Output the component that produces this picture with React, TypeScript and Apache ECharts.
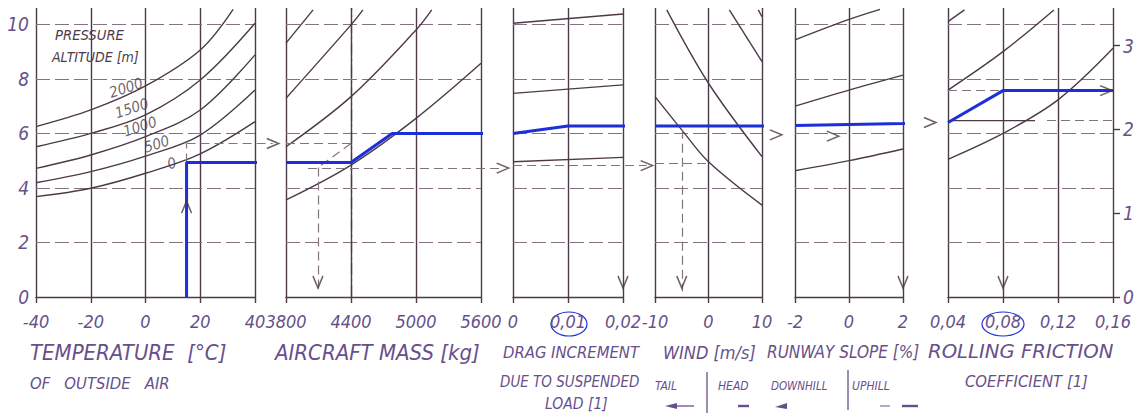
import React, { useEffect, useRef } from "react";
import * as echarts from "echarts";

// ---------------- data ----------------
const leftTicks = [0, 2, 4, 6, 8, 10];
const rightTicks = [0, 1, 2, 3];
const levelLines = [2, 4, 6, 8, 10];

const tempTicks = [-40, -20, 0, 20, 40];
const massTicks = [3800, 4400, 5000, 5600];
const dragTicks = [0, 0.01, 0.02];
const windTicks = [-10, 0, 10];
const slopeTicks = [-2, 0, 2];
const frictionTicks = [0.04, 0.08, 0.12, 0.16];

// pressure altitude curves (temperature panel)
const altitudeNames = ["0", "500", "1000", "1500", "2000"];
const alt0 = [[-40, 3.68], [-20, 3.99], [0, 4.54], [20, 5.25], [40, 6.43]];
const alt500 = [[-40, 4.19], [-20, 4.6], [0, 5.17], [20, 5.94], [40, 7.59]];
const alt1000 = [[-40, 4.72], [-20, 5.21], [0, 5.88], [20, 6.86], [40, 8.88]];
const alt1500 = [[-40, 5.51], [-20, 6.0], [0, 6.68], [20, 7.96], [40, 10.04]];
const alt2000 = [[-40, 6.25], [-20, 6.86], [0, 7.74], [20, 9.06], [32, 10.55]];
const altitudeLabelPos = [[9.6, 4.9], [4.1, 5.61], [-2.0, 6.25], [-5.0, 6.92], [-7.1, 7.67]];

// aircraft mass reference lines
const massA = [[3800, 3.56], [4400, 4.84], [5000, 6.55], [5600, 8.57]];
const massB = [[3800, 5.51], [4400, 7.35], [5000, 9.79], [5145, 10.53]];
const massC = [[3800, 7.29], [4400, 9.98], [4510, 10.53]];
const massD = [[3800, 9.31], [4050, 10.53]];

// drag increment reference lines
const dragA = [[0, 4.96], [0.02, 5.12]];
const dragB = [[0, 7.47], [0.02, 7.78]];
const dragC = [[0, 10.04], [0.02, 10.38]];

// wind reference lines
const windA = [[-10, 7.35], [-5, 6.13], [0, 4.96], [10, 3.37]];
const windB = [[-7.8, 10.53], [0, 7.84], [10, 5.15]];
const windC = [[3.9, 10.53], [10, 8.63]];
const windD = [[9.3, 10.53], [10, 10.28]];

// runway slope reference lines
const slopeA = [[-2, 9.43], [0, 10.18], [1.15, 10.55]];
const slopeB = [[-2, 7.0], [0, 7.59], [2, 8.14]];
const slopeC = [[-2, 4.63], [0, 5.0], [2, 5.43]];

// rolling friction reference lines
const fricA = [[0.04, 10.1], [0.052, 10.53]];
const fricB = [[0.04, 7.59], [0.08, 9.0], [0.117, 10.53]];
const fricC = [[0.04, 5.05], [0.08, 6.0], [0.12, 7.23], [0.16, 9.12]];
const fricRef = [[0.04, 6.47], [0.1033, 6.47]];

// worked example (blue path)
const blueTemp = [[15, 0], [15, 4.93], [40, 4.93]];
const blueMass = [[3800, 4.93], [4400, 4.93], [4780, 6.0], [5600, 6.0]];
const blueDrag = [[0, 6.0], [0.01, 6.27], [0.02, 6.27]];
const blueWind = [[-10, 6.27], [10, 6.27]];
const blueSlope = [[-2, 6.29], [2, 6.36]];
const blueFric = [[0.04, 6.4], [0.08, 7.57], [0.16, 7.57]];

// pencil guide lines (dashed)
const guideTemp = [[[15, 4.93], [15, 5.63]], [[15, 5.63], [46.5, 5.63]]];
const guideMass = [[[3800, 5.63], [4400, 5.63]], [[4400, 5.63], [4095, 4.75]], [[4095, 4.75], [4095, 0.2]], [[4003, 4.73], [5800, 4.73]]];
const guideDrag = [[[0, 4.82], [0.0243, 4.82]]];
const guideWind = [[[-10, 4.9], [0, 4.9]], [[-5, 6.13], [-5, 0.2]]];
const guideSlope: number[][][] = [];
const guideFric = [[[0.04, 7.57], [0.08, 7.57]], [[0.112, 6.47], [0.16, 6.47]]];
const dashDotMass = [[[4400, 0], [4400, 10.6]]];

// arrow heads [x, y, direction]
const arrowsTemp = [[15, 3.3, "up"], [46.5, 5.63, "right"]];
const arrowsMass = [[4095, 0.55, "down"], [5800, 4.73, "right"]];
const arrowsDrag = [[0.0243, 4.82, "right"], [0.02, 0.55, "down"]];
const arrowsWind = [[-5, 0.55, "down"], [12.6, 5.95, "right"]];
const arrowsSlope = [[-0.6, 5.9, "right"], [2, 0.55, "down"], [3.0, 6.4, "right"]];
const arrowsFric = [[0.08, 0.55, "down"], [0.155, 7.57, "right"]];

// ---------------- style / layout ----------------
const INK = "#4d3a48";
const GRIDC = "#85727f";
const TEXT = "#67508a";
const BLUE = "#1c2fd8";
const FONT = "'Liberation Sans Narrow','DejaVu Sans Condensed','Roboto Condensed','Liberation Sans',sans-serif";
const Y_MAX = 10.6;
const R_MAX = 3.45;
const GRID_TOP = 8;
const GRID_BOTTOM = 297;
const panelX = [[36, 255], [286, 481], [513, 623], [655, 762], [795, 903], [948, 1113]];

const comma2 = (v: number) => (Math.abs(v) < 1e-9 ? "0" : v.toFixed(2).replace(".", ","));
const plain = (v: number) => String(Math.round(v));

const panels = [
  { ticks: tempTicks, fmt: plain, curves: [alt0, alt500, alt1000, alt1500, alt2000], blue: blueTemp, guides: guideTemp, arrows: arrowsTemp },
  { ticks: massTicks, fmt: plain, curves: [massA, massB, massC, massD], blue: blueMass, guides: guideMass, arrows: arrowsMass },
  { ticks: dragTicks, fmt: comma2, curves: [dragA, dragB, dragC], blue: blueDrag, guides: guideDrag, arrows: arrowsDrag },
  { ticks: windTicks, fmt: plain, curves: [windA, windB, windC, windD], blue: blueWind, guides: guideWind, arrows: arrowsWind },
  { ticks: slopeTicks, fmt: plain, curves: [slopeA, slopeB, slopeC], blue: blueSlope, guides: guideSlope, arrows: arrowsSlope },
  { ticks: frictionTicks, fmt: comma2, curves: [fricA, fricB, fricC, fricRef], blue: blueFric, guides: guideFric, arrows: arrowsFric },
].map((p) => {
  const min = p.ticks[0];
  const max = p.ticks[p.ticks.length - 1];
  const interval = +(p.ticks[1] - p.ticks[0]).toFixed(6);
  const rem = Math.abs(+(min / interval).toFixed(6) - Math.round(min / interval));
  const offset = rem > 1e-6 ? min : 0;
  return { ...p, min, max, interval, offset };
});

const CHEVRON = "path://M0,0L6,10L12,0";
const rot: Record<string, number> = { down: 0, right: 90, up: 180, left: -90 };

function buildOption() {
  const grid = panelX.map(([l, r]) => ({ left: l, width: r - l, top: GRID_TOP, height: GRID_BOTTOM - GRID_TOP }));
  const labelFont = { color: TEXT, fontFamily: FONT, fontStyle: "italic" as const, fontSize: 18 };

  const xAxis = panels.map((p, i) => ({
    type: "value",
    gridIndex: i,
    min: p.min - p.offset,
    max: p.max - p.offset,
    interval: p.interval,
    axisLine: { show: true, onZero: false, lineStyle: { color: INK, width: 1.4 } },
    axisTick: { show: true, length: 6, lineStyle: { color: INK, width: 1.4 } },
    axisLabel: { ...labelFont, margin: 15, showMinLabel: true, showMaxLabel: true, formatter: (v: number) => p.fmt(v + p.offset) },
    splitLine: { show: true, lineStyle: { color: INK, width: 1.4 } },
  }));

  const yAxis: any[] = panels.map((p, i) => ({
    type: "value",
    gridIndex: i,
    min: 0,
    max: Y_MAX,
    interval: 2,
    axisLine: { show: false },
    axisTick: { show: false },
    splitLine: { show: false },
    axisLabel: i === 0 ? { ...labelFont, fontSize: 19, margin: 7, customValues: leftTicks } : { show: false },
  }));
  yAxis.push({
    type: "value",
    gridIndex: 5,
    position: "right",
    min: 0,
    max: R_MAX,
    interval: 1,
    axisLine: { show: false },
    axisTick: { show: true, length: 7, customValues: rightTicks, lineStyle: { color: INK, width: 1.4 } },
    splitLine: { show: false },
    axisLabel: { ...labelFont, fontSize: 19, margin: 10, customValues: rightTicks },
  });

  const series: any[] = [];
  panels.forEach((p, i) => {
    const tx = (pt: any[]) => [pt[0] - p.offset, pt[1]];
    const common = { xAxisIndex: i, yAxisIndex: i, silent: true, animation: false };
    series.push({
      ...common,
      type: "lines",
      coordinateSystem: "cartesian2d",
      data: levelLines.map((lv) => ({ coords: [[p.min - p.offset, lv], [p.max - p.offset, lv]] })),
      lineStyle: { color: GRIDC, width: 1, type: [14, 5], opacity: 1 },
      z: 1,
    });
    p.curves.forEach((c) => {
      series.push({
        ...common,
        type: "line",
        data: c.map(tx),
        smooth: 0.35,
        showSymbol: false,
        symbol: "none",
        lineStyle: { color: INK, width: 1.4 },
        z: 2,
      });
    });
    if (p.guides.length) {
      series.push({
        ...common,
        type: "lines",
        coordinateSystem: "cartesian2d",
        clip: false,
        data: p.guides.map((g) => ({ coords: g.map(tx) })),
        lineStyle: { color: GRIDC, width: 1.2, type: [9, 5], opacity: 1 },
        z: 3,
      });
    }
    if (i === 1) {
      series.push({
        ...common,
        type: "lines",
        coordinateSystem: "cartesian2d",
        data: dashDotMass.map((g) => ({ coords: g.map(tx) })),
        lineStyle: { color: INK, width: 1.3, type: [12, 4, 2, 4], opacity: 1 },
        z: 3,
      });
    }
    // blue worked example, extended across the gap to the next panel
    const bl = p.blue.map(tx);
    if (i < panels.length - 1) {
      const gapPx = panelX[i + 1][0] - panelX[i][1];
      const wPx = panelX[i][1] - panelX[i][0];
      const ext = (gapPx / wPx) * (p.max - p.min);
      bl.push([p.max - p.offset + ext, panels[i + 1].blue[0][1]]);
    }
    series.push({
      ...common,
      type: "line",
      data: bl,
      clip: false,
      showSymbol: false,
      symbol: "none",
      lineStyle: { color: BLUE, width: 3 },
      z: 6,
    });
    series.push({
      ...common,
      type: "scatter",
      clip: false,
      data: p.arrows.map((a: any[]) => ({ value: [a[0] - p.offset, a[1]], symbolRotate: rot[a[2]] })),
      symbol: CHEVRON,
      symbolSize: [10, 12],
      itemStyle: { color: "rgba(0,0,0,0)", borderColor: INK, borderWidth: 1.6 },
      z: 7,
    });
  });

  series.push({
    type: "scatter",
    xAxisIndex: 0,
    yAxisIndex: 0,
    silent: true,
    symbolSize: 1,
    itemStyle: { color: "rgba(0,0,0,0)" },
    data: altitudeLabelPos.map((pt, k) => ({ value: pt, name: altitudeNames[k] })),
    label: {
      show: true,
      position: "inside",
      formatter: (d: any) => d.name,
      rotate: 18,
      color: INK,
      fontFamily: FONT,
      fontStyle: "italic",
      fontSize: 15,
    },
    z: 8,
  });

  const t = (text: string, x: number, y: number, size: number, sx = 1, fill = TEXT) => ({
    type: "text",
    x,
    y,
    scaleX: sx,
    silent: true,
    style: { text, fill, fontSize: size, fontStyle: "italic", fontFamily: FONT, textVerticalAlign: "middle", textAlign: "left" },
  });
  const ln = (x1: number, y1: number, x2: number, y2: number, w = 1.3, color = TEXT) => ({
    type: "line",
    silent: true,
    shape: { x1, y1, x2, y2 },
    style: { stroke: color, lineWidth: w },
  });
  const tri = (pts: number[][]) => ({ type: "polygon", silent: true, shape: { points: pts }, style: { fill: TEXT } });

  const graphic = [
    t("PRESSURE", 55, 35, 14, 1.05, INK),
    t("ALTITUDE [m]", 52, 57, 14, 1.0, INK),
    t("TEMPERATURE  [°C]", 30, 352, 22),
    t("OF   OUTSIDE   AIR", 30, 383, 16.5),
    t("AIRCRAFT MASS [kg]", 275, 352, 22),
    t("DRAG INCREMENT", 503, 352, 16.5),
    t("DUE TO SUSPENDED", 500, 382, 15),
    t("LOAD [1]", 545, 404, 15.5),
    t("WIND [m/s]", 663, 352, 18),
    t("RUNWAY SLOPE [%]", 767, 352, 17),
    t("ROLLING FRICTION", 928, 352, 19, 1.15),
    t("COEFFICIENT [1]", 965, 381, 16.5),
    t("TAIL", 655, 386, 12),
    t("HEAD", 718, 386, 12),
    t("DOWNHILL", 771, 386, 11.5),
    t("UPHILL", 852, 386, 12),
    ln(707, 372, 707, 413),
    ln(848, 370, 848, 410),
    ln(676, 406, 694, 406),
    tri([[665, 406], [677, 403], [677, 409]]),
    ln(738, 406, 749, 406, 2.4),
    tri([[775, 407], [787, 403], [787, 409]]),
    ln(880, 406, 890, 406, 1),
    ln(902, 406, 918, 406, 2.4),
    { type: "ellipse", silent: true, shape: { cx: 569, cy: 324, rx: 18, ry: 12 }, style: { fill: "none", stroke: BLUE, lineWidth: 1.2 } },
    { type: "ellipse", silent: true, shape: { cx: 1003, cy: 324, rx: 21, ry: 12 }, style: { fill: "none", stroke: BLUE, lineWidth: 1.2 } },
  ];

  return { animation: false, backgroundColor: "#ffffff", grid, xAxis, yAxis, series, graphic };
}

export default function App() {
  const ref = useRef<HTMLDivElement>(null);
  useEffect(() => {
    if (!ref.current) return;
    const chart = echarts.init(ref.current, undefined, { renderer: "svg" });
    chart.setOption(buildOption() as any);
    return () => chart.dispose();
  }, []);
  return <div ref={ref} style={{ position: "fixed", left: 0, top: 0, width: 1142, height: 417, background: "#fff" }} />;
}
